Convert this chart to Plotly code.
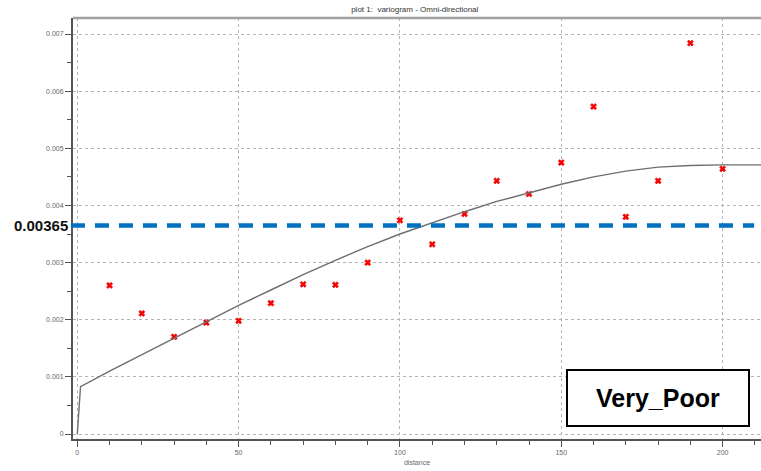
import plotly.graph_objects as go

# Experimental variogram points (lag distance, semivariance)
LAG = [10, 20, 30, 40, 50, 60, 70, 80, 90, 100,
       110, 120, 130, 140, 150, 160, 170, 180, 190, 200]
GAMMA = [0.00260, 0.00211, 0.00170, 0.00195, 0.00198, 0.00229, 0.00262, 0.00261, 0.00300, 0.00374,
         0.00332, 0.00385, 0.00443, 0.00420, 0.00475, 0.00573, 0.00380, 0.00443, 0.00684, 0.00464]

# Fitted model curve
MODEL_H = [0, 1, 10, 20, 30, 40, 50, 60, 70, 80, 90, 100, 110,
           120, 130, 140, 150, 160, 170, 180, 190, 200, 212]
MODEL_G = [0.0, 0.00083, 0.00110, 0.00139, 0.00168, 0.00196, 0.00225, 0.00252, 0.00279, 0.00304,
           0.00328, 0.00350, 0.00370, 0.00389, 0.00407, 0.00422, 0.00437, 0.00450, 0.00460,
           0.00467, 0.00470, 0.00471, 0.00471]

THRESHOLD = 0.00365
THRESHOLD_LABEL = "0.00365"
RATING = "Very_Poor"

X_TICKS = [0, 50, 100, 150, 200]
Y_TICKS = [0, 0.001, 0.002, 0.003, 0.004, 0.005, 0.006, 0.007]
Y_TICK_TEXT = ["0", "0.001", "0.002", "0.003", "0.004", "0.005", "0.006", "0.007"]

TITLE = "plot 1:  variogram - Omni-directional"
X_TITLE = "distance"

AX = "#555555"
GRID = "#b4b4b4"
TICKFONT = dict(family="Liberation Sans, Arial, sans-serif", size=7, color="#666666")

fig = go.Figure()

fig.add_trace(go.Scatter(
    x=LAG, y=GAMMA, mode="markers",
    marker=dict(symbol="x", size=5.5, color="#ff0000", line=dict(width=0.5, color="#d00000")),
    showlegend=False, hoverinfo="x+y"))

fig.add_trace(go.Scatter(
    x=MODEL_H, y=MODEL_G, mode="lines",
    line=dict(color="#6e6e6e", width=1.4),
    showlegend=False, hoverinfo="x+y"))

# Threshold dashed line
fig.add_shape(type="line", xref="paper", yref="y", x0=-0.003, x1=0.99,
              y0=THRESHOLD, y1=THRESHOLD,
              line=dict(color="#0070c0", width=4.5, dash="14px,10px"), layer="above")

# Top frame line
fig.add_shape(type="line", xref="paper", yref="paper", x0=0, x1=1, y0=1, y1=1,
              line=dict(color="#a0a0a0", width=2.5), layer="above")

fig.add_annotation(xref="paper", yref="y", x=-0.005, y=THRESHOLD, xanchor="right", yanchor="middle",
                   text="<b>%s</b>" % THRESHOLD_LABEL, showarrow=False,
                   font=dict(family="Liberation Sans, Arial, sans-serif", size=15, color="#111111"))

fig.add_annotation(xref="paper", yref="paper", x=0.850, y=0.0962, xanchor="center", yanchor="middle",
                   text="<b>%s</b>" % RATING, showarrow=False,
                   width=178, height=52, borderpad=1, borderwidth=2, bordercolor="#000000",
                   bgcolor="#ffffff",
                   font=dict(family="Liberation Sans, Arial, sans-serif", size=25, color="#000000"))

fig.update_layout(
    width=761, height=471,
    margin=dict(l=73, r=0, t=18, b=32),
    plot_bgcolor="#ffffff", paper_bgcolor="#ffffff",
    title=dict(text=TITLE, x=0.545, xanchor="center", y=1 - 9 / 471, yanchor="middle",
               yref="container",
               font=dict(family="Liberation Sans, Arial, sans-serif", size=8, color="#333333")),
    xaxis=dict(range=[-1.33, 211.9], tickvals=X_TICKS, showgrid=True, griddash="dot",
               gridcolor=GRID, gridwidth=1, zeroline=False,
               showline=True, linecolor=AX, linewidth=2,
               ticks="outside", ticklen=6, tickcolor=AX, tickwidth=1,
               minor=dict(dtick=10, ticks="outside", ticklen=4, tickcolor=AX, showgrid=False),
               tickfont=TICKFONT,
               title=dict(text=X_TITLE, standoff=5,
                          font=dict(family="Liberation Sans, Arial, sans-serif", size=7, color="#666666"))),
    yaxis=dict(range=[-0.0000875, 0.00728], tickvals=Y_TICKS, ticktext=Y_TICK_TEXT,
               showgrid=True, griddash="dot", gridcolor=GRID, gridwidth=1, zeroline=False,
               showline=True, linecolor=AX, linewidth=2,
               ticks="outside", ticklen=6, tickcolor=AX, tickwidth=1,
               minor=dict(dtick=0.0005, ticks="outside", ticklen=4, tickcolor=AX, showgrid=False),
               tickfont=TICKFONT),
)

fig.write_html("out.html", config={"displayModeBar": False},
               post_script="document.body.style.margin='0px';document.body.style.overflow='hidden';")
